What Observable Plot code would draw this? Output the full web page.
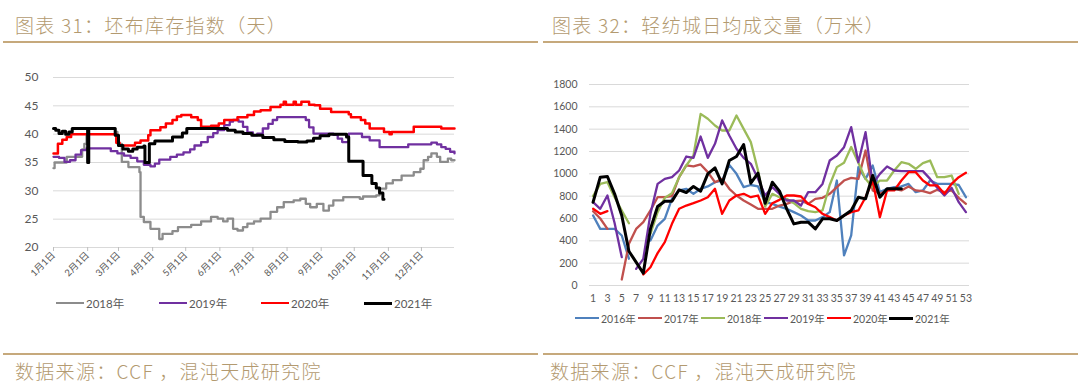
<!DOCTYPE html>
<html><head><meta charset="utf-8">
<script src="https://cdn.jsdelivr.net/npm/d3@7"></script>
<script src="https://cdn.jsdelivr.net/npm/@observablehq/plot@0.6"></script>
<style>
body{margin:0;width:1080px;height:390px;background:#fff;position:relative;overflow:hidden;font-family:"Noto Sans CJK SC",sans-serif}
.abs{position:absolute}
.title{font-size:19px;line-height:20px;color:#B39A70;letter-spacing:1.3px;white-space:nowrap;font-weight:300}
.rule{height:2px;background:#C6A97C}
.leg{position:absolute;display:flex;align-items:center;font-family:Lato,"Noto Sans CJK SC",sans-serif;color:#595959;white-space:nowrap}
.sw{display:inline-block;height:0;margin-right:2px}
</style></head>
<body>
<div class="abs title" style="left:15px;top:15px">图表 31：坯布库存指数（天）</div>
<div class="abs title" style="left:552px;top:15px">图表 32：轻纺城日均成交量（万米）</div>
<div class="abs rule" style="left:3px;top:41px;width:535px"></div>
<div class="abs rule" style="left:543px;top:41px;width:535px"></div>
<div id="left" class="abs" style="left:0;top:60px"></div>
<div id="right" class="abs" style="left:540px;top:60px"></div>
<div id="legL"></div>
<div id="legR"></div>
<div class="abs rule" style="left:3px;top:353px;width:535px"></div>
<div class="abs rule" style="left:543px;top:353px;width:535px"></div>
<div class="abs title" style="left:15px;top:361px">数据来源：CCF ，混沌天成研究院</div>
<div class="abs title" style="left:550px;top:361px">数据来源：CCF ，混沌天成研究院</div>
<script>
// ---------- Left chart: 坯布库存指数 (day of year, value) ----------
const monthStarts = [0,31,59,90,120,151,181,212,243,273,304,334];
const monthLabels = ["1月1日","2月1日","3月1日","4月1日","5月1日","6月1日","7月1日","8月1日","9月1日","10月1日","11月1日","12月1日"];
const invTicks = [20,25,30,35,40,45,50];
const invYears = ["2018年","2019年","2020年","2021年"];
const invColors = ["#8C8C8C","#7030A0","#FF0000","#000000"];

const inv2018Days = [0,1,12,26,28,30,31,56,58,62,68,78,79,82,88,96,99,108,113,125,134,143,149,154,158,163,167,172,176,182,188,197,203,209,218,224,229,233,239,245,250,254,263,278,281,293,296,302,308,316,327,333,336,340,343,348,351,358,361,364];
const inv2018 = [34,35,36,37.3,38.3,39.8,41,40.4,38.3,35.1,34.2,33.3,25.4,24.5,23.3,21.5,22.4,22.9,23.6,24,24.6,25.4,25.1,24.6,25.1,23.3,23,23.6,24.2,24.6,25.1,26.3,27.1,28,28.3,28.6,27.7,27.1,27.7,26.5,27.4,28.3,28.9,28.6,29,29.2,30.4,31.3,31.9,32.7,33.3,33.9,35.4,36,36.6,36,35.1,35.7,35.4,35.4];

const inv2019Days = [0,5,10,15,20,25,30,48,52,58,64,70,76,82,88,92,96,106,112,118,124,128,134,140,145,149,155,160,163,168,172,176,181,185,190,195,199,203,229,232,236,254,258,262,268,278,280,287,296,320,322,340,343,348,352,356,360,364];
const inv2019 = [36,35.8,35.1,35.4,36.4,37.2,37.5,37.5,37,36.6,36.2,35.8,35.2,34.6,34.3,34.8,35.5,36,36.4,36.8,37.3,38,38.6,39.5,40.2,40.7,41.6,42.2,42.5,42.2,41.3,40.3,39.8,40.1,41,41.8,42.5,43,42.5,41.2,40.1,39.9,39.2,38.6,40.1,40.1,39.5,38.9,37.7,37.7,38.2,38.2,38.5,38.2,37.7,37.4,36.9,36.6];

const inv2020Days = [0,4,8,12,16,55,57,60,74,79,86,88,97,102,108,112,116,125,131,134,143,150,155,167,176,182,188,197,206,209,211,218,220,225,232,237,242,252,268,270,279,283,287,300,305,307,327,352,364];
const inv2020 = [36.6,38.3,39,39.5,40,40,38.5,38,38.5,38.9,39.8,40.7,41.2,41.9,42.5,43.1,43.4,43,42.5,41.3,41.5,41.9,42.5,43,43.4,44,44.2,44.8,45.2,45.7,45.2,45.7,45.2,45.7,45.2,45.1,44.5,43.9,43.5,43,42.5,41.9,41,40.4,40,40.4,41.3,41,41];

const inv2021Days = [0,2,5,8,11,14,17,30,31,32,53,56,59,63,68,72,76,82,83,86,87,92,108,117,121,152,158,165,172,180,190,200,210,222,230,236,242,250,262,266,268,279,281,287,289,293,296,299,300];
const inv2021 = [41,40.7,40.1,40.5,40,40.4,41,41,35,41,41,39.8,38,37.4,37,37.4,37.7,37.9,35,35,38.3,38.8,39.5,40.2,41,41,40.7,40.4,40.1,39.8,39.4,39,38.7,38.6,38.8,39.3,39.7,40,40,39.5,35.2,35.2,32.7,32.7,31.3,30.5,29.6,28.5,28.5];

// ---------- Right chart: 轻纺城日均成交量 (weeks 1..53) ----------
const weekTicks = [1,3,5,7,9,11,13,15,17,19,21,23,25,27,29,31,33,35,37,39,41,43,45,47,49,51,53];
const volTicks = [0,200,400,600,800,1000,1200,1400,1600,1800];
const volYears = ["2016年","2017年","2018年","2019年","2020年","2021年"];
const volColors = ["#4F81BD","#C0504D","#9BBB59","#7030A0","#FF0000","#000000"];
const vol2016 = [627,507,507,507,448,240,null,null,403,537,597,776,851,866,821,866,887,925,940,1080,1000,881,900,887,746,731,707,687,657,627,582,582,612,657,940,269,448,1060,955,1075,836,866,881,887,910,836,851,940,910,910,910,900,791];
const vol2017 = [665,600,507,null,54,373,507,567,672,791,791,800,970,1075,1066,1084,1015,925,955,866,806,761,725,687,687,687,716,731,755,761,731,776,785,821,881,940,964,955,1209,851,821,851,866,851,887,851,845,827,857,836,851,785,731];
const vol2018 = [800,910,925,791,672,558,null,null,463,657,785,827,970,1075,1164,1537,1493,1433,1388,1388,1522,1403,1284,1030,707,821,791,776,737,687,666,657,672,900,1060,1100,1240,1100,955,880,940,940,1030,1104,1090,1045,1096,1119,970,970,985,821,null];
const vol2019 = [746,687,806,560,254,null,149,239,642,910,955,970,1030,1155,1143,1334,1143,1269,1478,1343,1224,1143,1090,955,806,881,821,761,761,716,836,836,910,1119,1164,1239,1418,1104,1373,910,1000,1066,1030,1024,1024,1024,1024,955,875,806,875,746,657];
const vol2020 = [687,642,666,null,null,null,null,99,164,290,388,552,687,716,737,761,791,866,642,761,806,821,791,806,642,737,767,806,806,797,731,701,642,612,582,627,657,672,791,940,612,851,851,940,1015,1015,940,896,896,821,910,970,1009];
const vol2021 = [746,970,976,821,627,307,209,110,507,707,755,755,857,833,887,845,1000,1054,910,1119,1155,1263,916,1006,737,925,845,687,552,567,567,507,597,597,582,627,672,791,776,985,791,866,866,866,null,null,null,null,null,null,null,null,null];

const font = 'Lato, "Noto Sans CJK SC", sans-serif';
const invSeries = [inv2018Days, inv2019Days, inv2020Days, inv2021Days];
const invVals = [inv2018, inv2019, inv2020, inv2021];
const invWidths = [2.3, 2.3, 2.5, 3];

const left = Plot.plot({
  width: 470, height: 232, marginLeft: 53, marginRight: 16, marginTop: 17, marginBottom: 45,
  style: {fontFamily: font, color: "#595959", background: "transparent"},
  x: {domain: [0, 364]},
  y: {domain: [20, 50]},
  marks: [
    Plot.ruleY(invTicks, {stroke: "#D9D9D9", strokeWidth: 1}),
    Plot.axisY({ticks: invTicks, tickFormat: d => String(d), tickSize: 0, tickPadding: 15, fontSize: 12, fill: "#595959", label: null}),
    Plot.axisX({ticks: monthStarts, tickFormat: d => monthLabels[monthStarts.indexOf(d)], tickRotate: -45, tickSize: 4, tickPadding: 2, fontSize: 9.5, stroke: "#BFBFBF", fill: "#595959", label: null}),
    ...invSeries.map((days, k) => Plot.line(days.map((d, i) => ({x: d, y: invVals[k][i]})), {
      x: "x", y: "y", stroke: invColors[k], strokeWidth: invWidths[k], curve: "step-after"
    }))
  ]
});
document.getElementById("left").appendChild(left);

const volVals = [vol2016, vol2017, vol2018, vol2019, vol2020, vol2021];
const right = Plot.plot({
  width: 440, height: 252, marginLeft: 49, marginRight: 11, marginTop: 24, marginBottom: 27,
  style: {fontFamily: font, color: "#595959", background: "transparent"},
  x: {domain: [0.5, 53.5]},
  y: {domain: [0, 1800]},
  marks: [
    Plot.ruleY(volTicks, {stroke: "#D9D9D9", strokeWidth: 1}),
    Plot.axisY({ticks: volTicks, tickFormat: d => String(d), tickSize: 0, tickPadding: 12, fontSize: 10.5, fill: "#595959", label: null}),
    Plot.axisX({ticks: weekTicks, tickFormat: d => String(d), tickSize: 0, tickPadding: 9, fontSize: 10.5, fill: "#595959", label: null}),
    ...volVals.map((vals, k) => Plot.line(vals.map((v, i) => ({x: i + 1, y: v})), {
      x: "x", y: "y", stroke: volColors[k], strokeWidth: k === 5 ? 3 : 2.3, strokeLinejoin: "round"
    }))
  ]
});
document.getElementById("right").appendChild(right);

// legends
function legend(el, names, colors, xs, y, fs, swW, widths) {
  names.forEach((n, i) => {
    const d = document.createElement("div");
    d.className = "leg";
    d.style.left = xs[i] + "px";
    d.style.top = (y - 8) + "px";
    d.style.height = "16px";
    d.style.fontSize = fs + "px";
    const s = document.createElement("span");
    s.className = "sw";
    s.style.width = swW + "px";
    s.style.borderTop = widths[i] + "px solid " + colors[i];
    d.appendChild(s);
    d.appendChild(document.createTextNode(n));
    el.appendChild(d);
  });
}
legend(document.getElementById("legL"), invYears, invColors, [56,159,261,364], 303, 11.5, 28, [2.5,2.5,2.5,3.5]);
legend(document.getElementById("legR"), volYears, volColors, [575,638,701,764,827,889], 318, 10.5, 24, [2.5,2.5,2.5,2.5,2.5,3.5]);
</script>
</body></html>
